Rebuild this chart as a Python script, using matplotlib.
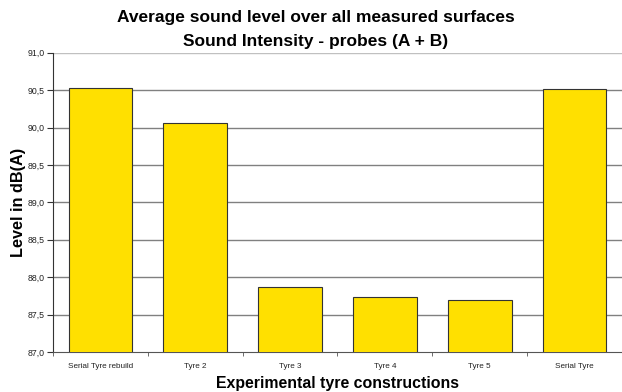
import matplotlib
matplotlib.use('Agg')
import matplotlib.pyplot as plt
import numpy as np

# Data
categories = ['Serial Tyre rebuild', 'Tyre 2', 'Tyre 3', 'Tyre 4', 'Tyre 5', 'Serial Tyre']
levels = [90.53, 90.06, 87.87, 87.74, 87.69, 90.52]
yticks = [87.0, 87.5, 88.0, 88.5, 89.0, 89.5, 90.0, 90.5, 91.0]

plt.rcParams['font.family'] = ['Liberation Sans', 'DejaVu Sans']

fig = plt.figure(figsize=(6.22, 3.92), dpi=100)
ax = fig.add_axes([0.0852, 0.102, 0.9148, 0.7635])

x = np.arange(len(categories))
ax.bar(x, levels, width=0.67, bottom=0, color='#FFE000', edgecolor='#333333', linewidth=0.8, zorder=3)

ax.set_ylim(87.0, 91.0)
ax.set_xlim(-0.5, len(categories) - 0.5)
ax.set_yticks(yticks)
ax.set_yticklabels([f'{v:.1f}'.replace('.', ',') for v in yticks], fontsize=6.3, color='#222222')

# Gridlines (top one lighter)
for v in yticks[1:-1]:
    ax.axhline(v, color='#808080', linewidth=1.0, zorder=1)
ax.axhline(yticks[-1], color='#c0c0c0', linewidth=1.0, zorder=1)

# x ticks: labels centred, tick marks at category boundaries
ax.set_xticks(x)
ax.set_xticklabels(categories, fontsize=5.9, color='#222222')
ax.tick_params(axis='x', length=0, pad=8)
ax.set_xticks(np.arange(-0.5, len(categories)), minor=True)
ax.tick_params(axis='x', which='minor', length=3, direction='out', color='#555555')
ax.tick_params(axis='y', length=4, direction='out', color='#333333', pad=2)

for s in ['top', 'right']:
    ax.spines[s].set_visible(False)
ax.spines['left'].set_color('#333333')
ax.spines['bottom'].set_color('#555555')

ax.set_ylabel('Level in dB(A)', fontsize=11.7, fontweight='bold', labelpad=1)
ax.set_xlabel('Experimental tyre constructions', fontsize=11.4, fontweight='bold', labelpad=4)
fig.text(0.508, 0.955, 'Average sound level over all measured surfaces', ha='center', va='center',
         fontsize=12.5, fontweight='bold')
fig.text(0.508, 0.895, 'Sound Intensity - probes (A + B)', ha='center', va='center',
         fontsize=12.5, fontweight='bold')

fig.savefig('out.png', dpi=100)
